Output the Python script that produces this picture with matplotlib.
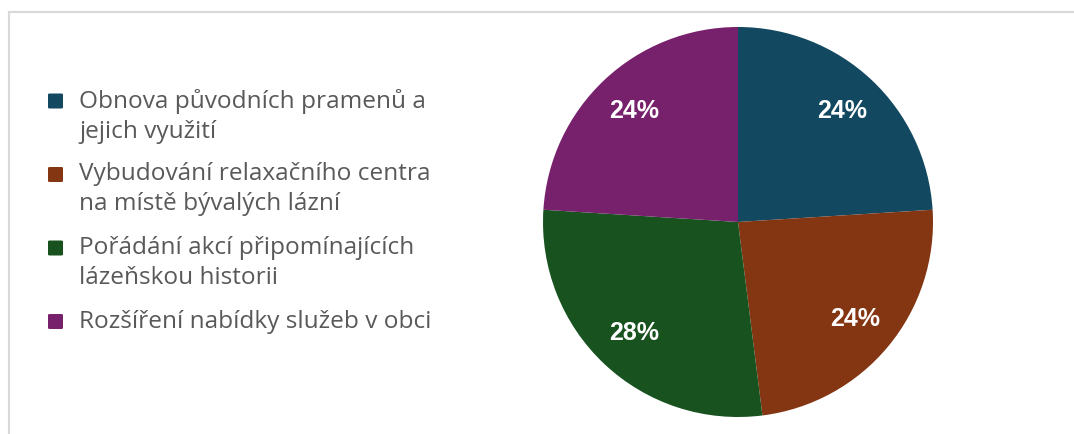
import matplotlib.pyplot as plt
from matplotlib.patches import FancyBboxPatch
from matplotlib.lines import Line2D

# - - - - data - - - -
labels = ['Obnova původních pramenů a\njejich využití',
          'Vybudování relaxačního centra\nna místě bývalých lázní',
          'Pořádání akcí připomínajících\nlázeňskou historii',
          'Rozšíření nabídky služeb v obci']
values = [6, 6, 7, 6]
colors = ['#124860', '#843512', '#17521F', '#77216D']

W, H = 1074, 434


def main():
    fig = plt.figure(figsize=(W / 100, H / 100), dpi=100)

    # light grey chart frame (top + left visible)
    fig.add_artist(Line2D([9 / W, 1], [1 - 12 / H, 1 - 12 / H],
                          color='#D9D9D9', lw=1.5, transform=fig.transFigure))
    fig.add_artist(Line2D([9 / W, 9 / W], [1 - 12 / H, 0],
                          color='#D9D9D9', lw=1.5, transform=fig.transFigure))

    # pie axes: centre (738, 222), radius 195 px
    cx, cy, r = 738, 222, 195
    ax = fig.add_axes([(cx - r) / W, 1 - (cy + r) / H, 2 * r / W, 2 * r / H])
    wedges, texts, autotexts = ax.pie(
        values, colors=colors, startangle=90, counterclock=False,
        autopct='%1.0f%%', pctdistance=0.78,
        wedgeprops=dict(linewidth=0),
        textprops=dict(color='white', fontsize=18, fontweight='bold',
                       family='Liberation Sans'))
    ax.set_xlim(-1, 1)
    ax.set_ylim(-1, 1)
    ax.set_aspect('equal')
    ax.axis('off')

    # legend, squares aligned with first text line
    y0, step = 101, 73.5
    for i, (lab, col) in enumerate(zip(labels, colors)):
        y = y0 + step * i
        sq = FancyBboxPatch((48 / W, 1 - (y + 7.5) / H), 15 / W, 15 / H,
                            boxstyle='round,pad=0,rounding_size=0.002',
                            transform=fig.transFigure, facecolor=col,
                            edgecolor='none')
        fig.add_artist(sq)
        fig.text(79 / W, 1 - (y - 12) / H, lab, fontsize=17.6, color='#595959',
                 family='Open Sans', va='top', ha='left', linespacing=1.32)

    fig.savefig('out.png', dpi=100)


if __name__ == '__main__':
    main()
